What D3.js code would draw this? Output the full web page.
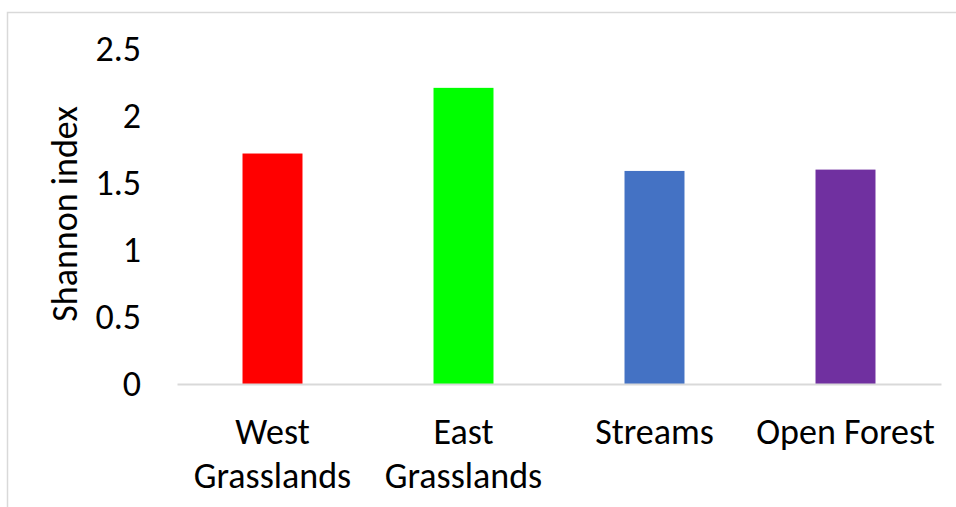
<!DOCTYPE html>
<html>
<head>
<meta charset="utf-8">
<script src="https://cdn.jsdelivr.net/npm/d3@7"></script>
<style>
  html, body { margin: 0; padding: 0; background: #fff; }
  svg { display: block; }
  text { font-family: Carlito, Calibri, Lato, sans-serif; fill: #000; }
</style>
</head>
<body>
<svg id="chart" width="956" height="507"></svg>
<script>
// Shannon diversity index by habitat
const categories = ["West Grasslands", "East Grasslands", "Streams", "Open Forest"];
const categoryLines = [["West", "Grasslands"], ["East", "Grasslands"], ["Streams"], ["Open Forest"]];
const shannonValues = [1.72, 2.21, 1.59, 1.60];
const barColors = ["#ff0000", "#00ff00", "#4472c4", "#7030a0"];
const yTicks = [0, 0.5, 1, 1.5, 2, 2.5];
const yTitle = "Shannon index";

const svg = d3.select("#chart");
const W = 956, H = 507;
const plot = { left: 177, right: 941, top: 49, bottom: 384 };
const fontSize = 36;

// chart area frame
svg.append("rect")
  .attr("x", 7.5).attr("y", 12.5)
  .attr("width", W).attr("height", H)
  .attr("fill", "none").attr("stroke", "#d9d9d9").attr("stroke-width", 1.5);

const x = d3.scaleBand()
  .domain(categories)
  .range([plot.left, plot.right])
  .paddingInner(0.686)
  .paddingOuter(0.343);

const y = d3.scaleLinear()
  .domain([0, 2.5])
  .range([plot.bottom, plot.top]);

// y axis labels (no axis line, no ticks)
const yAxis = d3.axisLeft(y)
  .tickValues(yTicks)
  .tickFormat(d => String(d))
  .tickSize(0)
  .tickPadding(0);
const yg = svg.append("g")
  .attr("transform", `translate(141,0)`)
  .call(yAxis);
yg.select(".domain").remove();
yg.selectAll("text")
  .attr("font-size", fontSize)
  .attr("font-family", "Carlito, Calibri, Lato, sans-serif")
  .attr("fill", "#000")
  .attr("dy", 11);

// bars
svg.append("g").selectAll("rect")
  .data(categories)
  .join("rect")
  .attr("x", d => x(d))
  .attr("width", x.bandwidth())
  .attr("y", (d, i) => y(shannonValues[i]))
  .attr("height", (d, i) => y(0) - y(shannonValues[i]))
  .attr("fill", (d, i) => barColors[i]);

// category axis line
const xAxis = d3.axisBottom(x).tickSize(0).tickFormat("");
const xg = svg.append("g")
  .attr("transform", `translate(0,${y(0)})`)
  .call(xAxis);
xg.select(".domain")
  .attr("stroke", "#d9d9d9")
  .attr("stroke-width", 2);

// category labels, wrapped over two lines
const labels = svg.append("g").selectAll("text")
  .data(categories)
  .join("text")
  .attr("text-anchor", "middle")
  .attr("font-size", fontSize)
  .attr("transform", d => `translate(${x(d) + x.bandwidth() / 2},444)`);
labels.selectAll("tspan")
  .data((d, i) => categoryLines[i])
  .join("tspan")
  .attr("x", 0)
  .attr("dy", (d, j) => j === 0 ? 0 : 44)
  .text(d => d);

// y axis title
svg.append("text")
  .attr("transform", `translate(77,214) rotate(-90)`)
  .attr("text-anchor", "middle")
  .attr("font-size", fontSize)
  .text(yTitle);
</script>
</body>
</html>
